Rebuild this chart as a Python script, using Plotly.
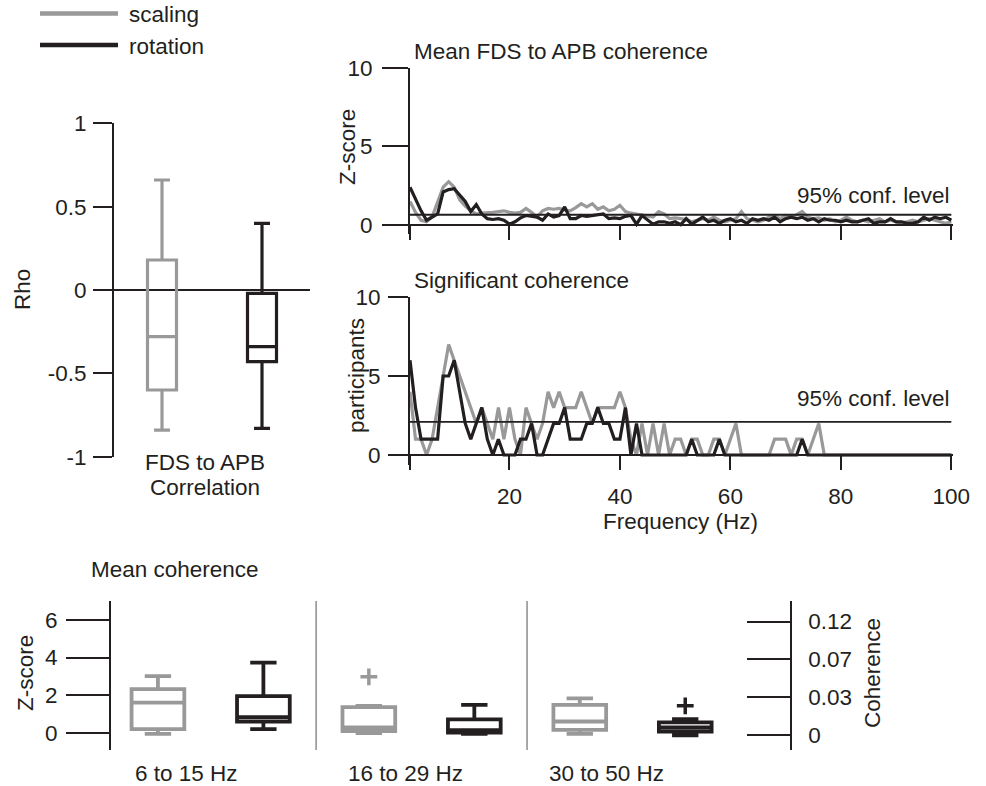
import plotly.graph_objects as go

# ---------------- data ----------------
CONDITIONS = ["scaling", "rotation"]

# FDS to APB correlation (Rho) box statistics
RHO_LOW = [-0.84, -0.83]
RHO_Q1 = [-0.60, -0.43]
RHO_MED = [-0.28, -0.34]
RHO_Q3 = [0.18, -0.02]
RHO_HIGH = [0.66, 0.40]
RHO_TICKS = [-1, -0.5, 0, 0.5, 1]
RHO_TICKTEXT = ["-1", "-0.5", "0", "0.5", "1"]

# Frequency axis (Hz)
FREQ = list(range(2, 101))
FREQ_TICKS = [2, 20, 40, 60, 80, 100]
FREQ_TICKTEXT = ["", "20", "40", "60", "80", "100"]

# Mean FDS to APB coherence (Z-score)
Z_SCALING = [1.5, 0.8, 0.3, 0.2, 0.5, 1.5, 2.4, 2.75, 2.4, 1.6,
             1.2, 0.9, 0.7, 0.75, 0.75, 0.8, 0.85, 0.9, 0.8, 0.75,
             0.8, 1.05, 0.8, 0.5, 0.9, 1.05, 1.0, 1.05, 0.95, 0.9,
             1.1, 1.35, 1.15, 1.35, 1.0, 1.15, 0.9, 1.0, 1.25, 0.85,
             0.75, 0.7, 0.6, 0.6, 0.5, 0.85, 0.7, 0.4, 0.45, 0.4,
             0.35, 0.2, 0.3, 0.4, 0.3, 0.5, 0.3, 0.2, 0.3, 0.4,
             0.85, 0.4, 0.3, 0.2, 0.3, 0.5, 0.6, 0.4, 0.6, 0.5,
             0.65, 0.85, 0.5, 0.4, 0.45, 0.3, 0.4, 0.2, 0.3, 0.5,
             0.3, 0.2, 0.3, 0.2, 0.3, 0.4, 0.2, 0.3, 0.2, 0.1,
             0.2, 0.3, 0.2, 0.3, 0.4, 0.3, 0.2, 0.1, 0.2]
Z_ROTATION = [2.4, 1.6, 0.9, 0.3, 0.5, 0.7, 2.1, 2.25, 2.3, 1.9,
              1.5, 0.85, 1.3, 0.7, 0.4, 0.35, 0.4, 0.3, 0.05, 0.2,
              0.45, 0.6, 0.55, 0.5, 0.3, 0.7, 0.5, 0.6, 1.15, 0.4,
              0.4, 0.6, 0.55, 0.6, 0.6, 0.7, 0.4, 0.45, 0.4, 0.55,
              0.6, 0.05, 0.6, 0.35, 0.05, 0.2, 0.2, 0.1, 0.2, 0.02,
              0.4, 0.05, 0.3, 0.5, 0.2, 0.3, 0.1, 0.3, 0.4, 0.2,
              0.3, 0.1, 0.4, 0.3, 0.4, 0.3, 0.5, 0.2, 0.4, 0.5,
              0.4, 0.5, 0.3, 0.4, 0.2, 0.4, 0.3, 0.3, 0.2, 0.3,
              0.2, 0.2, 0.3, 0.4, 0.1, 0.2, 0.2, 0.4, 0.2, 0.2,
              0.1, 0.1, 0.2, 0.5, 0.3, 0.5, 0.4, 0.5, 0.3]
Z_THRESHOLD = 0.65

# Significant coherence (number of participants)
N_SCALING = [4, 1, 1, 0, 1, 3, 5, 7, 6, 5,
             4, 3, 2, 3, 2, 1, 3, 1, 3, 1,
             0, 3, 2, 1, 2, 4, 3, 4, 3, 3,
             3, 4, 3, 2, 3, 3, 3, 3, 4, 3,
             1, 0, 2, 0, 2, 0, 2, 0, 1, 1,
             0, 1, 1, 0, 0, 1, 1, 0, 1, 2,
             0, 0, 0, 0, 0, 0, 1, 1, 1, 0,
             1, 1, 0, 1, 2, 0, 0, 0, 0, 0,
             0, 0, 0, 0, 0, 0, 0, 0, 0, 0,
             0, 0, 0, 0, 0, 0, 0, 0, 0]
N_ROTATION = [6, 3, 1, 1, 1, 1, 5, 5, 6, 4,
              2, 1, 2, 3, 1, 0, 1, 0, 0, 0,
              1, 1, 2, 0, 0, 1, 2, 2, 3, 1,
              1, 1, 2, 2, 3, 2, 2, 1, 1, 3,
              0, 2, 0, 0, 0, 0, 0, 0, 0, 0,
              0, 1, 0, 0, 0, 0, 1, 0, 0, 0,
              0, 0, 0, 0, 0, 0, 0, 0, 0, 0,
              0, 1, 0, 0, 0, 0, 0, 0, 0, 0,
              0, 0, 0, 0, 0, 0, 0, 0, 0, 0,
              0, 0, 0, 0, 0, 0, 0, 0, 0]
N_THRESHOLD = 2.1

# Mean coherence per frequency band (Z-score) box statistics
BANDS = ["6 to 15 Hz", "16 to 29 Hz", "30 to 50 Hz"]
MC_SCALING_LOW = [-0.05, 0.0, -0.04]
MC_SCALING_Q1 = [0.21, 0.10, 0.17]
MC_SCALING_MED = [1.61, 0.30, 0.61]
MC_SCALING_Q3 = [2.33, 1.37, 1.49]
MC_SCALING_HIGH = [3.02, 1.44, 1.84]
MC_ROTATION_LOW = [0.21, -0.05, -0.12]
MC_ROTATION_Q1 = [0.61, 0.02, 0.08]
MC_ROTATION_MED = [0.84, 0.15, 0.30]
MC_ROTATION_Q3 = [1.96, 0.72, 0.56]
MC_ROTATION_HIGH = [3.73, 1.49, 0.74]
MC_SCALING_OUTLIERS = [[], [2.98], []]
MC_ROTATION_OUTLIERS = [[], [], [1.44]]
Z_TICKS = [0, 2, 4, 6]
COH_TICKTEXT = ["0", "0.03", "0.07", "0.12"]

# ---------------- styling helpers ----------------
W, H = 986, 786
GRAY = "#999999"
BLACK = "#231f20"
COLORS = [GRAY, BLACK]
FONT = "Liberation Sans, Arial, Helvetica, sans-serif"
FS = 22.5


def px(x):
    return x / W


def py(y):
    return 1 - y / H


fig = go.Figure()

# ---- Rho box plot ----
for i, c in enumerate(COLORS):
    fig.add_trace(go.Box(
        x=[i + 1], q1=[RHO_Q1[i]], median=[RHO_MED[i]], q3=[RHO_Q3[i]],
        lowerfence=[RHO_LOW[i]], upperfence=[RHO_HIGH[i]],
        width=0.29, whiskerwidth=0.55, boxpoints=False,
        line=dict(color=c, width=3.2), fillcolor="rgba(0,0,0,0)",
        xaxis="x", yaxis="y", showlegend=False, hoverinfo="skip"))

# ---- Mean coherence spectrum ----
for ys, c in zip([Z_SCALING, Z_ROTATION], COLORS):
    fig.add_trace(go.Scatter(x=FREQ, y=ys, mode="lines",
                             line=dict(color=c, width=3.2),
                             xaxis="x2", yaxis="y2", showlegend=False, hoverinfo="skip"))
fig.add_trace(go.Scatter(x=[FREQ[0], FREQ[-1]], y=[Z_THRESHOLD, Z_THRESHOLD], mode="lines",
                         line=dict(color=BLACK, width=1.8),
                         xaxis="x2", yaxis="y2", showlegend=False, hoverinfo="skip"))

# ---- Significant coherence ----
for ys, c in zip([N_SCALING, N_ROTATION], COLORS):
    fig.add_trace(go.Scatter(x=FREQ, y=ys, mode="lines",
                             line=dict(color=c, width=3.2),
                             xaxis="x3", yaxis="y3", showlegend=False, hoverinfo="skip"))
fig.add_trace(go.Scatter(x=[FREQ[0], FREQ[-1]], y=[N_THRESHOLD, N_THRESHOLD], mode="lines",
                         line=dict(color=BLACK, width=1.8),
                         xaxis="x3", yaxis="y3", showlegend=False, hoverinfo="skip"))

# ---- Mean coherence band boxes ----
stats = [
    (MC_SCALING_LOW, MC_SCALING_Q1, MC_SCALING_MED, MC_SCALING_Q3, MC_SCALING_HIGH, MC_SCALING_OUTLIERS),
    (MC_ROTATION_LOW, MC_ROTATION_Q1, MC_ROTATION_MED, MC_ROTATION_Q3, MC_ROTATION_HIGH, MC_ROTATION_OUTLIERS),
]
for k, (lo, q1, med, q3, hi, outl) in enumerate(stats):
    xs = [2 * b + k + 1 for b in range(len(BANDS))]
    fig.add_trace(go.Box(
        x=xs, q1=q1, median=med, q3=q3, lowerfence=lo, upperfence=hi,
        width=0.5, whiskerwidth=0.5, boxpoints=False,
        line=dict(color=COLORS[k], width=3.8), fillcolor="rgba(0,0,0,0)",
        xaxis="x4", yaxis="y4", showlegend=False, hoverinfo="skip"))
    ox, oy = [], []
    for b, vals in enumerate(outl):
        for v in vals:
            ox.append(xs[b])
            oy.append(v)
    if ox:
        fig.add_trace(go.Scatter(
            x=ox, y=oy, mode="markers",
            marker=dict(symbol="cross-thin", size=12, line=dict(color=COLORS[k], width=3.5)),
            xaxis="x4", yaxis="y4", showlegend=False, hoverinfo="skip"))

# dummy trace so the right-hand coherence axis is drawn
fig.add_trace(go.Scatter(x=[None], y=[None], xaxis="x4", yaxis="y5",
                         showlegend=False, hoverinfo="skip"))

tickfont = dict(family=FONT, size=FS, color=BLACK)
axis_common = dict(showgrid=False, zeroline=False, showline=True, linecolor=BLACK,
                   linewidth=2, tickcolor=BLACK, tickwidth=2, tickfont=tickfont,
                   automargin=False)

fig.update_layout(
    template="none",
    width=W, height=H, autosize=False,
    margin=dict(l=0, r=0, t=0, b=0, pad=0, autoexpand=False),
    paper_bgcolor="white", plot_bgcolor="rgba(0,0,0,0)",
    font=dict(family=FONT, size=FS, color=BLACK),
    showlegend=False,
    xaxis=dict(domain=[px(114), px(310)], range=[0.52, 2.48], visible=False, anchor="y",
               automargin=False),
    yaxis=dict(domain=[py(456.7), py(123.3)], range=[-1, 1], anchor="x",
               tickvals=RHO_TICKS, ticktext=RHO_TICKTEXT, ticks="outside", ticklen=19,
               ticklabelstandoff=2,
               **{**axis_common, "zeroline": True}, zerolinecolor=BLACK, zerolinewidth=2),
    xaxis2=dict(domain=[px(410), px(953)], range=[2, 100.3], anchor="free", position=py(225),
                tickvals=FREQ_TICKS, ticks="outside", ticklen=14, showticklabels=False,
                **axis_common),
    yaxis2=dict(domain=[py(234.4), py(67.7)], range=[-0.6, 10], anchor="x2",
                tickvals=[0, 5, 10], ticks="outside", ticklen=26, ticklabelstandoff=5,
                **axis_common),
    xaxis3=dict(domain=[px(410), px(953)], range=[2, 100.3], anchor="free", position=py(455),
                tickvals=FREQ_TICKS, ticktext=FREQ_TICKTEXT, ticks="outside", ticklen=14,
                ticklabelstandoff=7, **axis_common),
    yaxis3=dict(domain=[py(464.5), py(297)], range=[-0.6, 10], anchor="x3",
                tickvals=[0, 5, 10], ticks="outside", ticklen=20, ticklabelstandoff=3,
                **axis_common),
    xaxis4=dict(domain=[px(111), px(790.7)], range=[0.555, 7.0], visible=False, anchor="y4",
                automargin=False),
    yaxis4=dict(domain=[py(750), py(601)], range=[-0.9, 7.0], anchor="x4",
                tickvals=Z_TICKS, ticks="outside", ticklen=43, ticklabelstandoff=4,
                **axis_common),
    yaxis5=dict(overlaying="y4", side="right", anchor="free", position=px(790.7),
                range=[-0.9, 7.0], tickvals=[t - 0.09 for t in Z_TICKS], ticktext=COH_TICKTEXT,
                ticks="inside", ticklen=43, ticklabelstandoff=12, **axis_common),
)

# band separators
for xsep in [2.5, 4.5]:
    fig.add_shape(type="line", xref="x4", yref="y4 domain", x0=xsep, x1=xsep, y0=0, y1=1,
                  line=dict(color="#8c8c8c", width=1.5))

# legend drawn as line samples + labels
for yy, c, name in [(13.5, GRAY, CONDITIONS[0]), (45, BLACK, CONDITIONS[1])]:
    fig.add_shape(type="line", xref="paper", yref="paper",
                  x0=px(40), x1=px(118), y0=py(yy), y1=py(yy), line=dict(color=c, width=4.5))
    fig.add_annotation(x=px(127), y=py(yy + 1.5), xref="paper", yref="paper", text=name,
                       showarrow=False, xanchor="left", yanchor="middle")


def label(text, x, y, xanchor="center", angle=0):
    fig.add_annotation(x=px(x), y=py(y), xref="paper", yref="paper", text=text,
                       showarrow=False, xanchor=xanchor, yanchor="middle", textangle=angle)


label("Rho", 22, 290, angle=-90)
label("FDS to APB", 205, 462)
label("Correlation", 205, 487)
label("Mean FDS to APB coherence", 412, 51, xanchor="left")
label("Z-score", 347, 147, angle=-90)
label("95% conf. level", 952, 195, xanchor="right")
label("Significant coherence", 412, 280, xanchor="left")
label("participants", 356, 376, angle=-90)
label("95% conf. level", 952, 398, xanchor="right")
label("Frequency (Hz)", 680, 521)
label("Mean coherence", 89, 569, xanchor="left")
label("Z-score", 25, 673, angle=-90)
label("Coherence", 872, 673, angle=-90)
for text, xl in zip(BANDS, [133, 346, 547]):
    label(text, xl, 773, xanchor="left")

# remove the default page margin so the 986x786 figure fills the window exactly
fig.write_html("out.html",
               config={"displayModeBar": False, "staticPlot": True},
               post_script="document.body.style.margin='0';document.body.style.overflow='hidden';")
